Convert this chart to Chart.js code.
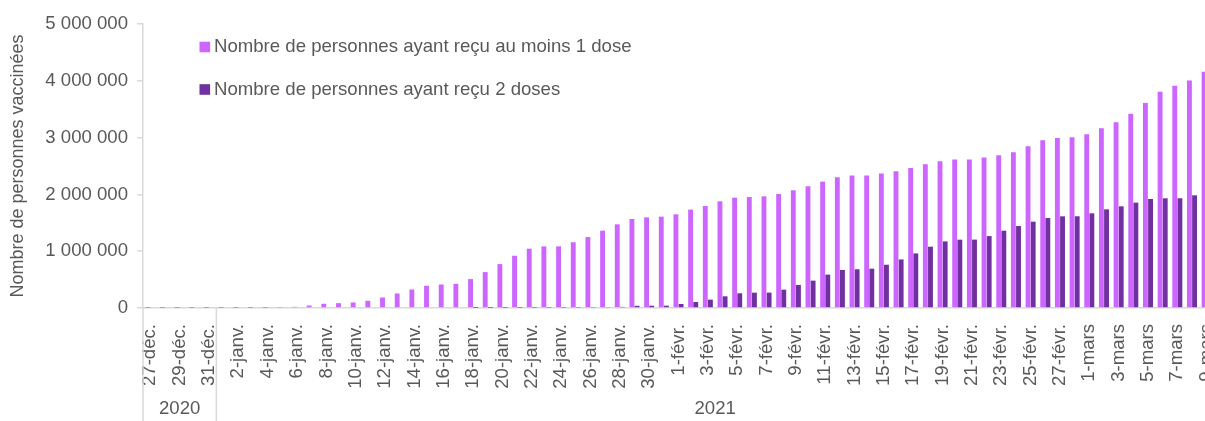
<!DOCTYPE html>
<html lang="fr">
<head>
<meta charset="utf-8">
<title>Vaccination</title>
<script src="https://cdn.jsdelivr.net/npm/chart.js@4/dist/chart.umd.min.js"></script>
<style>
  html, body { margin: 0; padding: 0; background: #fff; overflow: hidden; }
  canvas { display: block; }
</style>
</head>
<body>
<canvas id="vaccChart" width="1214" height="421"></canvas>
<script>
const days = [
  "27-déc.", "28-déc.", "29-déc.", "30-déc.", "31-déc.",
  "1-janv.", "2-janv.", "3-janv.", "4-janv.", "5-janv.", "6-janv.", "7-janv.", "8-janv.", "9-janv.", "10-janv.",
  "11-janv.", "12-janv.", "13-janv.", "14-janv.", "15-janv.", "16-janv.", "17-janv.", "18-janv.", "19-janv.", "20-janv.",
  "21-janv.", "22-janv.", "23-janv.", "24-janv.", "25-janv.", "26-janv.", "27-janv.", "28-janv.", "29-janv.", "30-janv.", "31-janv.",
  "1-févr.", "2-févr.", "3-févr.", "4-févr.", "5-févr.", "6-févr.", "7-févr.", "8-févr.", "9-févr.", "10-févr.",
  "11-févr.", "12-févr.", "13-févr.", "14-févr.", "15-févr.", "16-févr.", "17-févr.", "18-févr.", "19-févr.", "20-févr.",
  "21-févr.", "22-févr.", "23-févr.", "24-févr.", "25-févr.", "26-févr.", "27-févr.", "28-févr.",
  "1-mars", "2-mars", "3-mars", "4-mars", "5-mars", "6-mars", "7-mars", "8-mars", "9-mars"
];

const years = ["2020", "2021"];
const daysPerYear = [5, 68];

const atLeastOneDose = [
  100, 200, 300, 400, 520,
  520, 520, 520, 2000, 7000, 20000, 44000, 74000, 85000, 97000,
  127000, 185000, 256000, 326000, 391000, 414000, 426000, 509000, 632000, 773000,
  920000, 1044000, 1085000, 1085000, 1158000, 1249000, 1362000, 1473000, 1567000, 1596000, 1608000,
  1649000, 1732000, 1795000, 1878000, 1943000, 1954000, 1966000, 2007000, 2072000, 2143000,
  2225000, 2302000, 2331000, 2331000, 2367000, 2407000, 2466000, 2531000, 2584000, 2614000,
  2616000, 2649000, 2690000, 2743000, 2848000, 2954000, 2995000, 3007000,
  3060000, 3166000, 3272000, 3418000, 3607000, 3806000, 3912000, 4007000, 4159000
];

const twoDoses = [
  0, 0, 0, 0, 0,
  0, 0, 0, 0, 0, 0, 0, 0, 0, 0,
  0, 0, 0, 0, 0, 0, 0, 1000, 2000, 3000,
  4000, 5000, 6000, 6000, 7000, 8000, 10000, 20000, 39000, 40000, 41000,
  70000, 106000, 147000, 206000, 259000, 270000, 271000, 323000, 406000, 482000,
  588000, 670000, 682000, 692000, 762000, 855000, 961000, 1079000, 1173000, 1203000,
  1204000, 1266000, 1361000, 1443000, 1520000, 1584000, 1614000, 1615000,
  1667000, 1737000, 1790000, 1855000, 1919000, 1931000, 1932000, 1984000, 1990000
];

const yTicks = [0, 1000000, 2000000, 3000000, 4000000, 5000000];

const textColour = "#595959";
const axisColour = "#d9d9d9";
const fontFamily = '"Liberation Sans", Arial, sans-serif';

function spaced(n) {
  return String(n).replace(/\B(?=(\d{3})+(?!\d))/g, " ");
}

// legend stacked in the top-left corner of the plot
const cornerLegend = {
  id: "cornerLegend",
  afterDraw(chart) {
    const { ctx, chartArea } = chart;
    ctx.save();
    ctx.font = "18.6px " + fontFamily;
    ctx.textBaseline = "middle";
    ctx.textAlign = "left";
    chart.data.datasets.forEach((ds, i) => {
      const y = chartArea.top + 23 + i * 42.5;
      ctx.fillStyle = ds.backgroundColor;
      ctx.fillRect(chartArea.left + 56.5, y - 5.3, 10.6, 10.6);
      ctx.fillStyle = textColour;
      ctx.fillText(ds.label, chartArea.left + 71, y);
    });
    ctx.restore();
  }
};

// second row of the x axis: years with separators
const yearRow = {
  id: "yearRow",
  afterDraw(chart) {
    const { ctx, chartArea } = chart;
    const x = chart.scales.x;
    const half = (x.getPixelForValue(1) - x.getPixelForValue(0)) / 2;
    ctx.save();
    ctx.strokeStyle = axisColour;
    ctx.lineWidth = 1.5;
    ctx.font = "18.6px " + fontFamily;
    ctx.fillStyle = textColour;
    ctx.textAlign = "center";
    ctx.textBaseline = "middle";
    let start = 0;
    years.forEach((yr, k) => {
      const left = x.getPixelForValue(start) - half;
      const right = x.getPixelForValue(start + daysPerYear[k] - 1) + half;
      ctx.beginPath();
      ctx.moveTo(left, chartArea.bottom);
      ctx.lineTo(left, chart.height);
      ctx.stroke();
      ctx.fillText(yr, (left + right) / 2, 409);
      start += daysPerYear[k];
    });
    ctx.restore();
  }
};

new Chart(document.getElementById("vaccChart"), {
  type: "bar",
  data: {
    labels: days,
    datasets: [
      {
        label: "Nombre de personnes ayant reçu au moins 1 dose",
        data: atLeastOneDose,
        backgroundColor: "#cc66ff",
        categoryPercentage: 0.7,
        barPercentage: 0.95
      },
      {
        label: "Nombre de personnes ayant reçu 2 doses",
        data: twoDoses,
        backgroundColor: "#7030a0",
        categoryPercentage: 0.7,
        barPercentage: 0.95
      }
    ]
  },
  options: {
    responsive: false,
    animation: false,
    layout: { padding: { top: 24, right: 0, bottom: 0, left: 0 } },
    plugins: {
      legend: { display: false },
      tooltip: { enabled: false }
    },
    scales: {
      x: {
        grid: { display: false },
        border: { display: true, color: axisColour, width: 1.5 },
        ticks: {
          autoSkip: false,
          minRotation: 90,
          maxRotation: 90,
          padding: 8,
          color: textColour,
          font: { family: fontFamily, size: 18.6 },
          callback: (v, i) => (i % 2 === 0 ? days[i] : "")
        },
        afterFit: (s) => {
          s.height = 113;
          // the last date runs off the right edge, no room kept for it
          s.paddingLeft = 0;
          s.paddingRight = 0;
        }
      },
      y: {
        min: 0,
        max: 5000000,
        afterBuildTicks: (s) => { s.ticks = yTicks.map((v) => ({ value: v })); },
        grid: { drawOnChartArea: false, drawTicks: true, tickLength: 6, color: axisColour, lineWidth: 1.5 },
        border: { display: true, color: axisColour, width: 1.5 },
        ticks: {
          padding: 9,
          color: textColour,
          font: { family: fontFamily, size: 18.6 },
          callback: (v) => spaced(v)
        },
        title: {
          display: true,
          text: "Nombre de personnes vaccinées",
          color: textColour,
          font: { family: fontFamily, size: 18 },
          padding: { top: 7, bottom: 0 }
        },
        afterFit: (s) => { s.width = 143; }
      }
    }
  },
  plugins: [cornerLegend, yearRow]
});
</script>
</body>
</html>
